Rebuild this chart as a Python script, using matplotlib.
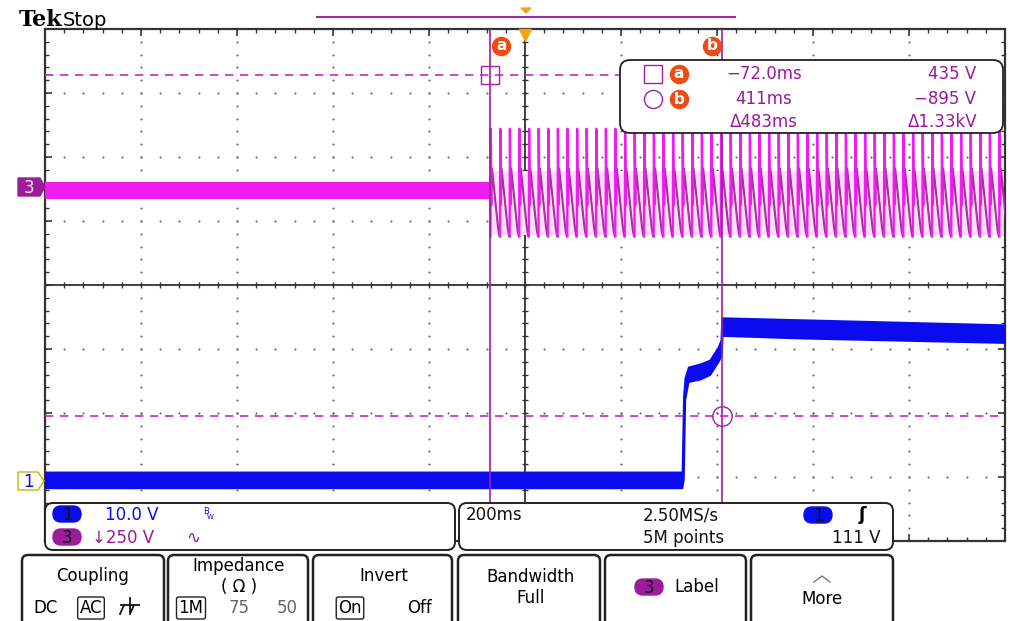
import matplotlib.pyplot as plt
import numpy as np
from matplotlib.patches import FancyBboxPatch, Polygon

W, H = 1011, 621

# horizontal: ms (200 ms/div), vertical: graticule divisions
t_div = 200.0
ch3_scale = 250.0   # V/div
ch1_scale = 10.0    # V/div
ch3_offset = 1.54   # div above centre
ch1_offset = -3.06

cursor_t = [-72.0, 411.0]
cursor_v = [435.0, -895.0]
readout_t = ['\u221272.0ms', '411ms', '\u0394483ms']
readout_v = ['435 V', '\u2212895 V', '\u03941.33kV']

# ch3 quiet band before switch-on (V)
ch3_start = -72.0
ch3_quiet_hi = 18.0
ch3_quiet_lo = -45.0
# one 20 ms cycle of ch3 after switch-on (ms, V)
ch3_period = 20.0
ch3_fast_t = [0.0, 0.6, 2.0]
ch3_fast_v = [-195, 225, -70]
ch3_slow_t = [2.0, 3.2, 8.0, 13.0, 16.5, 19.0, 20.0]
ch3_slow_v = [-70, 70, -20, -110, -170, -195, -195]
ch3_haze = [-190, 60]

# ch1 noise envelope (ms, V upper, V lower)
ch1_t = [-1000, 327, 330, 333, 340, 365, 385, 402, 408, 409.5, 411, 573, 1000]
ch1_hi = [1.4, 1.4, 13.2, 16.1, 17.8, 18.3, 18.9, 20.9, 22.0, 25.5, 25.5, 25.2, 24.4]
ch1_lo = [-1.1, -1.1, 0.2, 12.7, 15.5, 15.9, 16.6, 18.6, 19.5, 20.0, 22.7, 22.3, 21.6]

MAG = '#ee1cee'
MAG_DK = '#a8309f'
BLUE = '#0b0bf0'
CUR = '#a21ea2'
DASH = '#cc22cc'
ORANGE = '#f04a12'
GRID = '#444444'
TXT_P = '#9a1a9a'
BADGE_P = '#9c1c9c'

plt.rcParams['font.family'] = ['DejaVu Sans']

fig = plt.figure(figsize=(W / 100, H / 100), dpi=100)
fig.patch.set_facecolor('white')

ax = fig.add_axes([45 / W, 1 - 541 / H, 960 / W, 512 / H])
ax.set_xlim(-5 * t_div, 5 * t_div)
ax.set_ylim(-4, 4)
ax.set_xticks(np.arange(-1000, 1001, 200))
ax.set_xticks(np.arange(-1000, 1001, 40), minor=True)
ax.set_yticks(np.arange(-4, 4.01, 1))
ax.set_yticks(np.arange(-4, 4.01, 0.2), minor=True)
ax.tick_params(which='both', direction='in', top=True, right=True,
               labelleft=False, labelbottom=False, color='#333333')
ax.tick_params(which='major', length=5, width=1.2)
ax.tick_params(which='minor', length=3, width=1)
for s in ax.spines.values():
  s.set_color('#333333')
  s.set_linewidth(1.6)

# dotted graticule
ys = np.arange(-4, 4.01, 0.2)
xs = np.arange(-1000, 1001, 40)
for gx in [-800, -600, -400, -200, 200, 400, 600, 800]:
  ax.plot([gx] * len(ys), ys, ls='none', marker='s', ms=1.2, mew=0, color=GRID, zorder=1)
for gy in [-3, -2, -1, 1, 2, 3]:
  ax.plot(xs, [gy] * len(xs), ls='none', marker='s', ms=1.2, mew=0, color=GRID, zorder=1)
ax.axvline(0, color='#333333', lw=1.3, zorder=1)
ax.axhline(0, color='#333333', lw=1.3, zorder=1)
ax.plot([0] * len(ys), ys, ls='none', marker='_', ms=5, mew=1, color='#333333', zorder=1)
ax.plot(xs, [0] * len(xs), ls='none', marker='|', ms=5, mew=1, color='#333333', zorder=1)

# channel 3 trace
ax.fill_between([-1000, ch3_start], ch3_quiet_lo / ch3_scale + ch3_offset,
                ch3_quiet_hi / ch3_scale + ch3_offset, color=MAG, lw=0.8, zorder=3)
ax.fill_between([ch3_start, 1000], ch3_haze[0] / ch3_scale + ch3_offset,
                ch3_haze[1] / ch3_scale + ch3_offset, color='#fbe0fb', lw=0, zorder=2)
fast_t, fast_v, slow_t, slow_v = [], [], [], []
k = 0
while ch3_start + k * ch3_period < 1000:
  t0 = ch3_start + k * ch3_period
  fast_t += [t0 + t for t in ch3_fast_t] + [np.nan]
  fast_v += list(ch3_fast_v) + [np.nan]
  slow_t += [t0 + t for t in ch3_slow_t] + [np.nan]
  slow_v += list(ch3_slow_v) + [np.nan]
  k += 1
ax.plot(slow_t, np.array(slow_v) / ch3_scale + ch3_offset, color=MAG_DK, lw=1.5, zorder=3)
ax.plot(fast_t, np.array(fast_v) / ch3_scale + ch3_offset, color=MAG, lw=1.7, zorder=3)

# channel 1 trace
ax.fill_between(ch1_t, np.array(ch1_lo) / ch1_scale + ch1_offset,
                np.array(ch1_hi) / ch1_scale + ch1_offset,
                color=BLUE, ec=BLUE, lw=1.2, zorder=3)

# cursors
for t in cursor_t:
  ax.axvline(t, color=CUR, lw=1.2, zorder=4)
cy = [cursor_v[0] / ch3_scale + ch3_offset, cursor_v[1] / ch3_scale + ch3_offset]
for y in cy:
  ax.axhline(y, color=DASH, lw=1.2, ls=(0, (5, 4)), zorder=4)
ax.plot(cursor_t[0], cy[0], marker='s', ms=13, mfc='none', mec=CUR, mew=1, zorder=5)
ax.plot(cursor_t[1], cy[1], marker='o', ms=14, mfc='none', mec=CUR, mew=1, zorder=5)
for t, dt, lab in [(cursor_t[0], 23, 'a'), (cursor_t[1], -21, 'b')]:
  ax.plot(t + dt, 3.73, marker='o', ms=13, color=ORANGE, clip_on=False, zorder=6)
  ax.text(t + dt, 3.74, lab, color='white', fontsize=11, fontweight='bold',
          ha='center', va='center', clip_on=False, zorder=7)
# trigger position marker
ax.plot(0, 3.9, marker='v', ms=8, color='#f5a31a', clip_on=False, zorder=6)

# ---- overlay for the scope UI (pixel coordinates)
ov = fig.add_axes([0, 0, 1, 1])
ov.set_xlim(0, W)
ov.set_ylim(H, 0)
ov.axis('off')
ov.set_zorder(10)
ov.patch.set_alpha(0)


def rbox(x0, y0, x1, y1, r=8, lw=1.4, fc='white', ec='#222222'):
  ov.add_patch(FancyBboxPatch((x0, y0), x1 - x0, y1 - y0,
                              boxstyle='round,pad=0,rounding_size=%d' % r,
                              fc=fc, ec=ec, lw=lw))


def pill(cx, cy, text, fc, tc='#111111'):
  ov.add_patch(FancyBboxPatch((cx - 14, cy - 8), 28, 16,
                              boxstyle='round,pad=0,rounding_size=8', fc=fc, ec=fc))
  ov.text(cx, cy + 1, text, color=tc, fontsize=12, ha='center', va='center')


ov.text(19, 26, 'Tek', fontsize=16, fontweight='bold', family='DejaVu Serif', va='baseline')
ov.text(63, 26, 'Stop', fontsize=14, va='baseline')
ov.plot([317, 735], [17, 17], color='#a22aa2', lw=1.5)
ov.add_patch(Polygon([[521, 8], [531, 8], [526, 13]], color='#f5a31a'))

# cursor readout
rbox(620, 60, 1003, 133, r=10, lw=1.3)
ov.plot(653, 74, marker='s', ms=13, mfc='white', mec=CUR, mew=1)
ov.plot(653, 99, marker='o', ms=13, mfc='white', mec=CUR, mew=1)
for yy, lab in [(74, 'a'), (99, 'b')]:
  ov.plot(679, yy, marker='o', ms=13, color=ORANGE)
  ov.text(679, yy, lab, color='white', fontsize=11, fontweight='bold', ha='center', va='center')
for i, yy in enumerate([74, 99, 122]):
  ov.text(764, yy, readout_t[i], color=TXT_P, fontsize=12, ha='center', va='center')
  ov.text(976 if i < 2 else 978, yy, readout_v[i], color=TXT_P, fontsize=12, ha='right', va='center')

# left ground markers
ov.add_patch(Polygon([[18, 178], [40, 178], [45, 187], [40, 196], [18, 196]], fc=BADGE_P, ec=BADGE_P))
ov.text(29, 188, '3', color='#eeeeee', fontsize=12, ha='center', va='center')
ov.add_patch(Polygon([[18, 472], [38, 472], [44, 481], [38, 490], [18, 490]], fc='white', ec='#c8b400', lw=1))
ov.text(28, 482, '1', color=BLUE, fontsize=12, ha='center', va='center')

# channel info box
rbox(45, 503, 455, 550)
pill(67, 514, '1', BLUE)
ov.text(105, 515, '10.0 V', color=BLUE, fontsize=12, va='center')
ov.text(203, 512, 'B', color=BLUE, fontsize=6, va='center')
ov.text(207, 517, 'W', color=BLUE, fontsize=5, va='center')
pill(67, 537, '3', BADGE_P)
ov.text(92, 538, '\u2193250 V', color=TXT_P, fontsize=12, va='center')
ov.text(186, 538, '\u223f', color=TXT_P, fontsize=12, va='center')

# timebase box
rbox(459, 503, 893, 550)
ov.text(466, 515, '200ms', fontsize=12, va='center', color='#111111')
ov.text(643, 515, '2.50MS/s', fontsize=12, va='center', color='#111111')
ov.text(643, 538, '5M points', fontsize=12, va='center', color='#111111')
pill(818, 515, '1', BLUE)
ov.text(862, 515, '\u0283', fontsize=13, fontweight='bold', va='center', ha='center')
ov.text(880, 538, '111 V', fontsize=12, va='center', ha='right', color='#111111')

# menu buttons
buttons = [(22, 164), (168, 308), (313, 452), (458, 600), (605, 746), (751, 893)]
for x0, x1 in buttons:
  rbox(x0, 555, x1, 630, r=6, lw=1.8)
ov.text(93, 576, 'Coupling', fontsize=12, ha='center', va='center')
ov.text(46, 608, 'DC', fontsize=12, ha='center', va='center')
ov.text(91, 608, 'AC', fontsize=12, ha='center', va='center',
        bbox=dict(boxstyle='round,pad=0.12', fc='white', ec='#222222', lw=1))
ov.plot([130, 130], [598, 612], color='#111111', lw=1.3)
ov.plot([121, 139], [605, 605], color='#111111', lw=1.3)
ov.plot([124, 120], [605, 614], color='#111111', lw=1.3)
ov.plot([134, 130], [605, 614], color='#111111', lw=1.3)
ov.text(239, 566, 'Impedance', fontsize=12, ha='center', va='center')
ov.text(239, 587, '( \u03a9 )', fontsize=12, ha='center', va='center')
ov.text(191, 608, '1M', fontsize=12, ha='center', va='center',
        bbox=dict(boxstyle='round,pad=0.12', fc='white', ec='#222222', lw=1))
ov.text(239, 608, '75', fontsize=12, ha='center', va='center', color='#666666')
ov.text(287, 608, '50', fontsize=12, ha='center', va='center', color='#666666')
ov.text(384, 576, 'Invert', fontsize=12, ha='center', va='center')
ov.text(350, 608, 'On', fontsize=12, ha='center', va='center',
        bbox=dict(boxstyle='round,pad=0.12', fc='white', ec='#222222', lw=1))
ov.text(420, 608, 'Off', fontsize=12, ha='center', va='center')
ov.text(531, 577, 'Bandwidth', fontsize=12, ha='center', va='center')
ov.text(531, 598, 'Full', fontsize=12, ha='center', va='center')
pill(649, 587, '3', BADGE_P)
ov.text(697, 587, 'Label', fontsize=12, ha='center', va='center')
ov.plot([814, 822, 830], [582, 576, 582], color='#777777', lw=1)
ov.text(822, 599, 'More', fontsize=12, ha='center', va='center')

fig.savefig('out.png', dpi=100)
